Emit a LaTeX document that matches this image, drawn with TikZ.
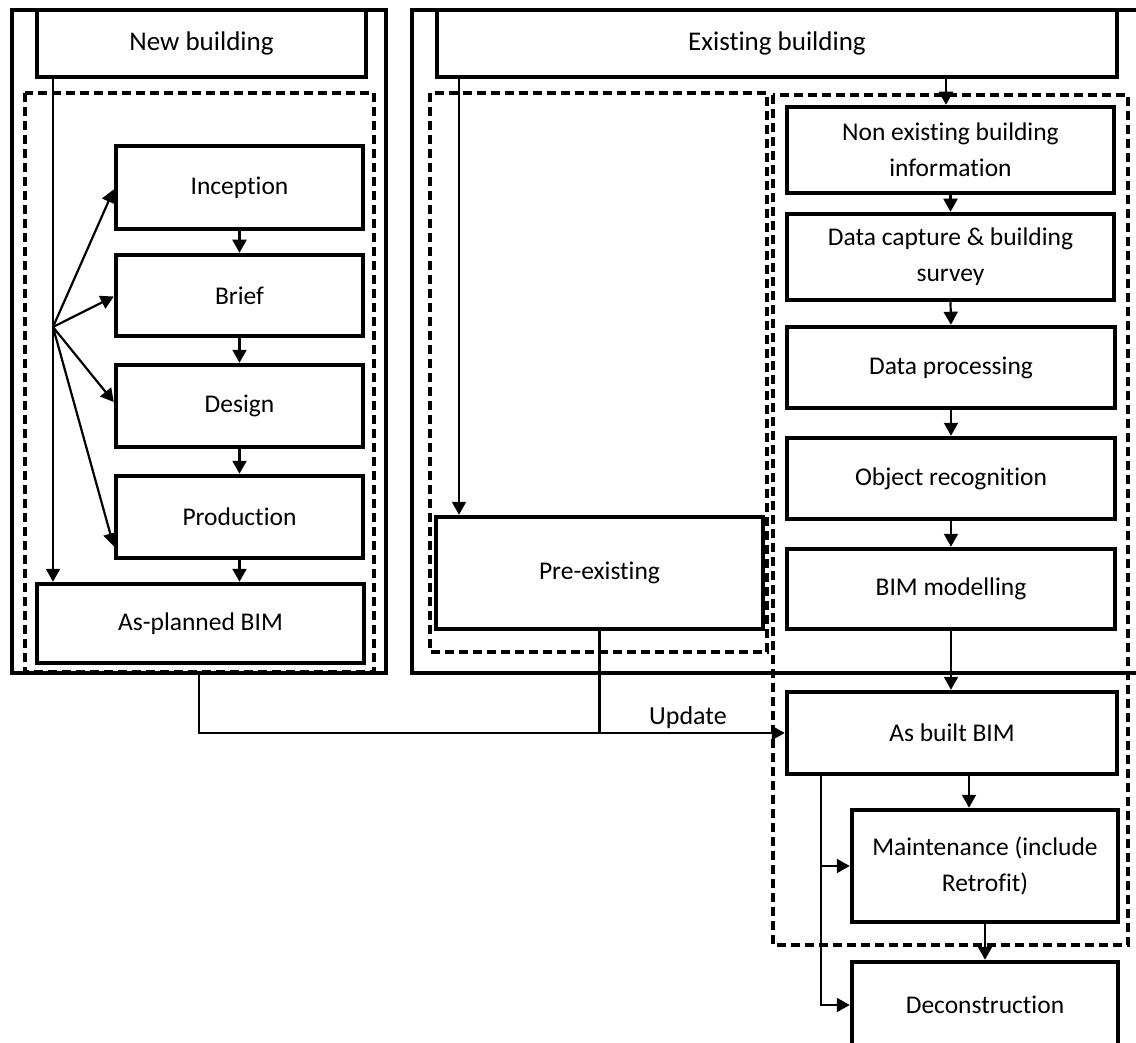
\documentclass[tikz,border=0pt]{standalone}
\usepackage{fontspec}
\setmainfont{Carlito}[Ligatures=NoCommon]
\usetikzlibrary{arrows.meta,calc}

% a named box given by its corners: [style]{name}{x1}{y1}{x2}{y2}{text}
\newcommand\cornerbox[7][box]{%
  \node[#1, minimum width={#5-#3}, minimum height={#6-#4}]
    (#2) at ({(#3+#5)/2},{(#4+#6)/2}) {#7};}

\begin{document}
\begin{tikzpicture}[x=1pt,y=-1pt,
  box/.style={draw, line width=4.5pt, fill=white, align=center, inner sep=0pt,
              font=\fontsize{25.5}{36}\selectfont},
  title/.style={box, font=\fontsize{27}{36}\selectfont},
  frame/.style={draw, line width=4.5pt, inner sep=0pt},
  group/.style={draw, line width=3.2pt, dash pattern=on 9pt off 5pt},
  link/.style={line width=2.2pt},
  arr/.style={link, -{Triangle[length=13pt,width=14pt]}},
]
\useasboundingbox (0,0) rectangle (1136,1043);
\clip (0,0) rectangle (1136,1043);

% outer frames
\cornerbox[frame]{frameL}{12}{10}{386}{673}{}
\cornerbox[frame]{frameR}{412}{10}{1170}{673}{}

% dashed groups
\draw[group] (25,93) rectangle (374,672);
\draw[group] (430,93) rectangle (767,652);
\draw[group] (773,95) rectangle (1128,945);

% new building column
\cornerbox[title]{newb}{37}{10}{366}{77}{New building}
\cornerbox{incep}{116}{146}{363}{229}{Inception}
\cornerbox{brief}{116}{255}{363}{336}{Brief}
\cornerbox{design}{116}{365}{363}{447}{Design}
\cornerbox{prod}{116}{476}{363}{558}{Production}
\cornerbox{asplan}{37}{584}{364}{663}{As-planned BIM}

% existing building column
\cornerbox[title]{exist}{437}{10}{1117}{77}{Existing building}
\cornerbox{preex}{436}{517}{763}{629}{Pre-existing}
\cornerbox{nonex}{787}{107}{1114}{193}{Non existing building\\information}
\cornerbox{datacap}{787}{214}{1114}{300}{Data capture \& building\\survey}
\cornerbox{dataproc}{787}{327}{1115}{408}{Data processing}
\cornerbox{objrec}{787}{438}{1115}{519}{Object recognition}
\cornerbox{bimmod}{787}{549}{1115}{629}{BIM modelling}
\cornerbox{asbuilt}{787}{692}{1117}{774}{As built BIM}
\cornerbox{maint}{852}{810}{1118}{922}{Maintenance (include\\Retrofit)}
\cornerbox{decon}{852}{962}{1118}{1048}{Deconstruction}

% connectors: new building
\coordinate (fan) at (53,327);
\draw[arr] (newb.south -| fan) -- (asplan.north -| fan);
\draw[arr] (fan) -- ($(incep.west)+(0,2)$);
\draw[arr] (fan) -- ($(brief.west)+(0,1)$);
\draw[arr] (fan) -- ($(design.west)+(0,-4)$);
\draw[arr] (fan) -- ($(prod.south west)+(0,-14)$);
\draw[arr] (incep.south) -- (brief.north);
\draw[arr] (brief.south) -- (design.north);
\draw[arr] (design.south) -- (prod.north);
\draw[arr] (prod.south) -- (prod.south |- asplan.north);

% connectors: existing building
\coordinate (exA) at (459,0);
\coordinate (exB) at (946,0);
\draw[arr] (exist.south -| exA) -- (preex.north -| exA);
\draw[arr] (exist.south -| exB) -- (nonex.north -| exB);
\draw[arr] (nonex.south) -- (datacap.north);
\draw[arr] (datacap.south) -- (dataproc.north);
\draw[arr] (dataproc.south) -- (objrec.north);
\draw[arr] (objrec.south) -- (bimmod.north);
\draw[arr] (bimmod.south) -- (bimmod.south |- asbuilt.north);

% update path
\draw[arr] (frameL.south) |- (asbuilt.west);
\draw[link] (preex.south) -- (preex.south |- asbuilt.west);
\node[font=\fontsize{26}{30}\selectfont] (upd) at (688,718) {Update};

% life cycle after as built
\coordinate (abA) at (969,0);
\coordinate (abB) at (821,0);
\draw[arr] (asbuilt.south -| abA) -- (maint.north -| abA);
\draw[arr] (maint.south) -- (maint.south |- decon.north);
\draw[arr] (asbuilt.south -| abB) |- (decon.west);
\draw[arr] (maint.west -| abB) -- (maint.west);
\end{tikzpicture}
\end{document}
